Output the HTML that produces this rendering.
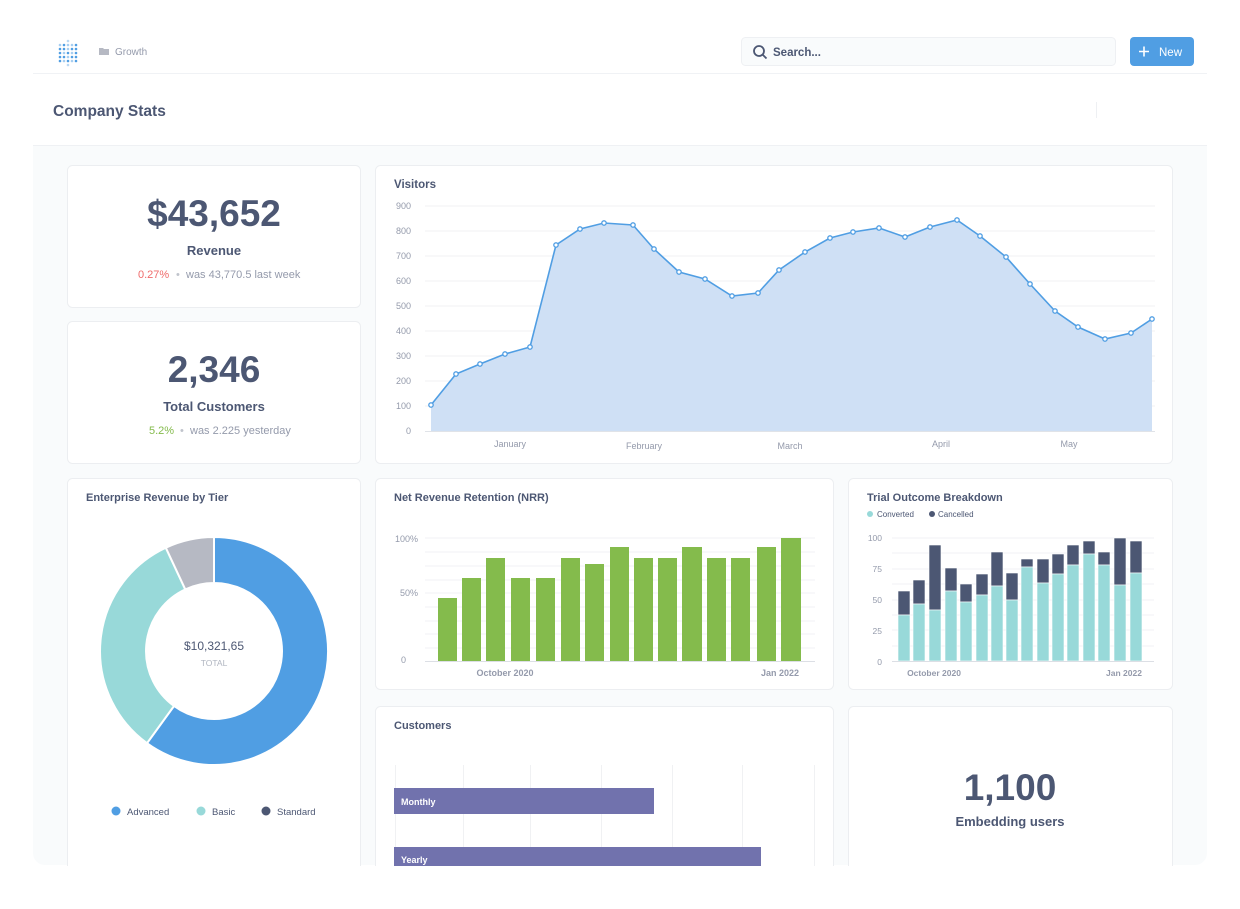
<!DOCTYPE html>
<html><head><meta charset="utf-8"><style>
body{margin:0;background:#fff;}
svg text{font-family:"Liberation Sans",sans-serif;}
</style></head><body>
<svg width="1240" height="904" xmlns="http://www.w3.org/2000/svg">
<rect width="1240" height="904" fill="#fff"/>
<g fill="#509ee3">
<circle cx="60" cy="45" r="1.3" opacity=".5"/><circle cx="64" cy="45" r="1.3"/><circle cx="68" cy="45" r="1.3" opacity=".5"/><circle cx="72" cy="45" r="1.3" opacity=".5"/><circle cx="76" cy="45" r="1.3"/>
<circle cx="60" cy="49" r="1.3"/><circle cx="64" cy="49" r="1.3"/><circle cx="68" cy="49" r="1.3" opacity=".5"/><circle cx="72" cy="49" r="1.3"/><circle cx="76" cy="49" r="1.3"/>
<circle cx="60" cy="53" r="1.3"/><circle cx="64" cy="53" r="1.3" opacity=".5"/><circle cx="68" cy="53" r="1.3"/><circle cx="72" cy="53" r="1.3" opacity=".5"/><circle cx="76" cy="53" r="1.3"/>
<circle cx="60" cy="57" r="1.3"/><circle cx="64" cy="57" r="1.3"/><circle cx="68" cy="57" r="1.3" opacity=".5"/><circle cx="72" cy="57" r="1.3"/><circle cx="76" cy="57" r="1.3"/>
<circle cx="60" cy="61" r="1.3"/><circle cx="64" cy="61" r="1.3" opacity=".5"/><circle cx="68" cy="61" r="1.3"/><circle cx="72" cy="61" r="1.3" opacity=".5"/><circle cx="76" cy="61" r="1.3"/>
<circle cx="68" cy="41" r="1.3" opacity=".4"/><circle cx="68" cy="65" r="1.3" opacity=".4"/>
</g>
<path d="M99 48h4l1 1h5v6h-10z" fill="#b6b9c3"/>
<text x="115" y="55" font-size="10" fill="#949aab">Growth</text>
<rect x="741.5" y="37.5" width="374" height="28" rx="4" fill="#f9fbfc" stroke="#eef0f3"/>
<circle cx="759" cy="51" r="5" fill="none" stroke="#4c5773" stroke-width="1.8"/><path d="M763 55l3.5 3.5" stroke="#4c5773" stroke-width="1.8"/>
<text x="773" y="56" font-size="11.5" font-weight="bold" fill="#4c5773">Search...</text>
<rect x="1130" y="37" width="64" height="29" rx="4" fill="#509ee3"/>
<path d="M1139 51.5h10M1144 46.5v10" stroke="#fff" stroke-width="1.6"/>
<text x="1159" y="56" font-size="11.5" fill="#fff">New</text>
<line x1="33" y1="73.5" x2="1207" y2="73.5" stroke="#f0f2f5"/>
<text x="53" y="116" font-size="15.5" font-weight="bold" fill="#4c5773">Company Stats</text>
<line x1="1096.5" y1="102" x2="1096.5" y2="118" stroke="#eef0f3"/>
<path d="M33 145H1207V853a12 12 0 0 1-12 12H45a12 12 0 0 1-12-12z" fill="#f9fbfc"/>
<line x1="33" y1="145.5" x2="1207" y2="145.5" stroke="#eff1f4"/>
<g fill="#fff" stroke="#eceef1">
<rect x="67.5" y="165.5" width="293" height="142" rx="5"/>
<rect x="67.5" y="321.5" width="293" height="142" rx="5"/>
<rect x="375.5" y="165.5" width="797" height="298" rx="5"/>
<rect x="67.5" y="478.5" width="293" height="400" rx="5"/>
<rect x="375.5" y="478.5" width="458" height="211" rx="5"/>
<rect x="848.5" y="478.5" width="324" height="211" rx="5"/>
<rect x="375.5" y="706.5" width="458" height="180" rx="5"/>
<rect x="848.5" y="706.5" width="324" height="180" rx="5"/>
</g>
<rect x="0" y="866" width="1240" height="38" fill="#fff"/>
<g text-anchor="middle" fill="#4c5773" font-weight="bold">
<text x="214" y="226" font-size="37">$43,652</text>
<text x="214" y="255" font-size="13">Revenue</text>
<text x="214" y="382" font-size="37">2,346</text>
<text x="214" y="411" font-size="13">Total Customers</text>
<text x="1010" y="800" font-size="37">1,100</text>
<text x="1010" y="826" font-size="13">Embedding users</text>
</g>
<text x="138" y="278" font-size="11" fill="#ef6b6b">0.27%</text>
<text x="176" y="278" font-size="11" fill="#c0c4cc">•</text>
<text x="186" y="278" font-size="11" fill="#949aab">was 43,770.5 last week</text>
<text x="149" y="434" font-size="11" fill="#84bb4c">5.2%</text>
<text x="180" y="434" font-size="11" fill="#c0c4cc">•</text>
<text x="190" y="434" font-size="11" fill="#949aab">was 2.225 yesterday</text>
<text x="394" y="188" font-size="11.5" font-weight="bold" fill="#4c5773">Visitors</text>
<g stroke="#f0f1f3"><line x1="425" y1="206" x2="1155" y2="206"/><line x1="425" y1="231" x2="1155" y2="231"/><line x1="425" y1="256" x2="1155" y2="256"/><line x1="425" y1="281" x2="1155" y2="281"/><line x1="425" y1="306" x2="1155" y2="306"/><line x1="425" y1="331" x2="1155" y2="331"/><line x1="425" y1="356" x2="1155" y2="356"/><line x1="425" y1="381" x2="1155" y2="381"/><line x1="425" y1="406" x2="1155" y2="406"/></g>
<g font-size="9" fill="#949aab" text-anchor="end"><text x="411" y="209">900</text><text x="411" y="234">800</text><text x="411" y="259">700</text><text x="411" y="284">600</text><text x="411" y="309">500</text><text x="411" y="334">400</text><text x="411" y="359">300</text><text x="411" y="384">200</text><text x="411" y="409">100</text><text x="411" y="434">0</text></g>
<path d="M431 431L431 405 456 374 480 364 505 354 530 347 556 245 580 229 604 223 633 225 654 249 679 272 705 279 732 296 758 293 779 270 805 252 830 238 853 232 879 228 905 237 930 227 957 220 980 236 1006 257 1030 284 1055 311 1078 327 1105 339 1131 333 1152 319 1152 431Z" fill="#cfe0f5"/>
<line x1="425" y1="431.5" x2="1155" y2="431.5" stroke="#e0e3e8"/>
<polyline points="431 405 456 374 480 364 505 354 530 347 556 245 580 229 604 223 633 225 654 249 679 272 705 279 732 296 758 293 779 270 805 252 830 238 853 232 879 228 905 237 930 227 957 220 980 236 1006 257 1030 284 1055 311 1078 327 1105 339 1131 333 1152 319" fill="none" stroke="#509ee3" stroke-width="1.6"/>
<g fill="#fff" stroke="#509ee3" stroke-width="1.3">
<circle cx="431" cy="405" r="2.2"/><circle cx="456" cy="374" r="2.2"/><circle cx="480" cy="364" r="2.2"/><circle cx="505" cy="354" r="2.2"/><circle cx="530" cy="347" r="2.2"/><circle cx="556" cy="245" r="2.2"/><circle cx="580" cy="229" r="2.2"/><circle cx="604" cy="223" r="2.2"/><circle cx="633" cy="225" r="2.2"/><circle cx="654" cy="249" r="2.2"/><circle cx="679" cy="272" r="2.2"/><circle cx="705" cy="279" r="2.2"/><circle cx="732" cy="296" r="2.2"/><circle cx="758" cy="293" r="2.2"/><circle cx="779" cy="270" r="2.2"/><circle cx="805" cy="252" r="2.2"/><circle cx="830" cy="238" r="2.2"/><circle cx="853" cy="232" r="2.2"/><circle cx="879" cy="228" r="2.2"/><circle cx="905" cy="237" r="2.2"/><circle cx="930" cy="227" r="2.2"/><circle cx="957" cy="220" r="2.2"/><circle cx="980" cy="236" r="2.2"/><circle cx="1006" cy="257" r="2.2"/><circle cx="1030" cy="284" r="2.2"/><circle cx="1055" cy="311" r="2.2"/><circle cx="1078" cy="327" r="2.2"/><circle cx="1105" cy="339" r="2.2"/><circle cx="1131" cy="333" r="2.2"/><circle cx="1152" cy="319" r="2.2"/>
</g>
<g font-size="9" fill="#949aab" text-anchor="middle"><text x="510" y="447">January</text><text x="644" y="449">February</text><text x="790" y="449">March</text><text x="941" y="447">April</text><text x="1069" y="447">May</text></g>
<text x="86" y="501" font-size="11" font-weight="bold" fill="#4c5773">Enterprise Revenue by Tier</text>
<g stroke="#fff" stroke-width="2">
<path d="M214 537A114 114 0 1 1 147 743.2L174 706A68 68 0 1 0 214 583Z" fill="#509ee3"/>
<path d="M147 743.2A114 114 0 0 1 165.8 547.7L185.3 589.4A68 68 0 0 0 174 706Z" fill="#98d9d9"/>
<path d="M165.8 547.7A114 114 0 0 1 214 537L214 583A68 68 0 0 0 185.3 589.4Z" fill="#b6b9c3"/>
</g>
<text x="214" y="650" font-size="12" fill="#4c5773" text-anchor="middle">$10,321,65</text>
<text x="214" y="666" font-size="8.5" fill="#b0b5c0" text-anchor="middle">TOTAL</text>
<circle cx="116" cy="811" r="4.5" fill="#509ee3"/><text x="127" y="815" font-size="9.5" fill="#4c5773">Advanced</text>
<circle cx="201" cy="811" r="4.5" fill="#98d9d9"/><text x="212" y="815" font-size="9.5" fill="#4c5773">Basic</text>
<circle cx="266" cy="811" r="4.5" fill="#4c5773"/><text x="277" y="815" font-size="9.5" fill="#4c5773">Standard</text>
<text x="394" y="501" font-size="11" font-weight="bold" fill="#4c5773">Net Revenue Retention (NRR)</text>
<g stroke="#f1f2f4"><line x1="425" y1="538" x2="815" y2="538"/><line x1="425" y1="552" x2="815" y2="552"/><line x1="425" y1="566" x2="815" y2="566"/><line x1="425" y1="580" x2="815" y2="580"/><line x1="425" y1="593" x2="815" y2="593"/><line x1="425" y1="607" x2="815" y2="607"/><line x1="425" y1="621" x2="815" y2="621"/><line x1="425" y1="634" x2="815" y2="634"/><line x1="425" y1="648" x2="815" y2="648"/></g>
<g font-size="9" fill="#949aab" text-anchor="end"><text x="418" y="542">100%</text><text x="418" y="596">50%</text><text x="406" y="663">0</text></g>
<g fill="#84bb4c">
<rect x="438" y="598" width="19" height="63"/><rect x="462" y="578" width="19" height="83"/><rect x="486" y="558" width="19" height="103"/><rect x="511" y="578" width="19" height="83"/><rect x="536" y="578" width="19" height="83"/><rect x="561" y="558" width="19" height="103"/><rect x="585" y="564" width="19" height="97"/><rect x="610" y="547" width="19" height="114"/><rect x="634" y="558" width="19" height="103"/><rect x="658" y="558" width="19" height="103"/><rect x="682" y="547" width="20" height="114"/><rect x="707" y="558" width="19" height="103"/><rect x="731" y="558" width="19" height="103"/><rect x="757" y="547" width="19" height="114"/><rect x="781" y="538" width="20" height="123"/>
</g>
<line x1="425" y1="661.5" x2="815" y2="661.5" stroke="#dcdfe5"/>
<g font-size="9" fill="#949aab" text-anchor="middle" font-weight="bold"><text x="505" y="676">October 2020</text><text x="780" y="676">Jan 2022</text></g>
<text x="867" y="501" font-size="11" font-weight="bold" fill="#4c5773">Trial Outcome Breakdown</text>
<circle cx="870" cy="514" r="3" fill="#98d9d9"/><text x="877" y="517" font-size="8" fill="#4c5773">Converted</text>
<circle cx="932" cy="514" r="3" fill="#4c5773"/><text x="938" y="517" font-size="8" fill="#4c5773">Cancelled</text>
<g stroke="#f1f2f4"><line x1="892" y1="538" x2="1154" y2="538"/><line x1="892" y1="553" x2="1154" y2="553"/><line x1="892" y1="569" x2="1154" y2="569"/><line x1="892" y1="584" x2="1154" y2="584"/><line x1="892" y1="600" x2="1154" y2="600"/><line x1="892" y1="615" x2="1154" y2="615"/><line x1="892" y1="630" x2="1154" y2="630"/><line x1="892" y1="646" x2="1154" y2="646"/></g>
<g font-size="8.5" fill="#949aab" text-anchor="end"><text x="882" y="541">100</text><text x="882" y="572">75</text><text x="882" y="603">50</text><text x="882" y="634">25</text><text x="882" y="665">0</text></g>
<g stroke="#fff" stroke-width="0.6">
<rect x="898" y="591" width="12" height="24" fill="#4c5773"/><rect x="898" y="615" width="12" height="46" fill="#98d9d9"/>
<rect x="913" y="580" width="12" height="24" fill="#4c5773"/><rect x="913" y="604" width="12" height="57" fill="#98d9d9"/>
<rect x="929" y="545" width="12" height="65" fill="#4c5773"/><rect x="929" y="610" width="12" height="51" fill="#98d9d9"/>
<rect x="945" y="568" width="12" height="23" fill="#4c5773"/><rect x="945" y="591" width="12" height="70" fill="#98d9d9"/>
<rect x="960" y="584" width="12" height="18" fill="#4c5773"/><rect x="960" y="602" width="12" height="59" fill="#98d9d9"/>
<rect x="976" y="574" width="12" height="21" fill="#4c5773"/><rect x="976" y="595" width="12" height="66" fill="#98d9d9"/>
<rect x="991" y="552" width="12" height="34" fill="#4c5773"/><rect x="991" y="586" width="12" height="75" fill="#98d9d9"/>
<rect x="1006" y="573" width="12" height="27" fill="#4c5773"/><rect x="1006" y="600" width="12" height="61" fill="#98d9d9"/>
<rect x="1021" y="559" width="12" height="8" fill="#4c5773"/><rect x="1021" y="567" width="12" height="94" fill="#98d9d9"/>
<rect x="1037" y="559" width="12" height="24" fill="#4c5773"/><rect x="1037" y="583" width="12" height="78" fill="#98d9d9"/>
<rect x="1052" y="554" width="12" height="20" fill="#4c5773"/><rect x="1052" y="574" width="12" height="87" fill="#98d9d9"/>
<rect x="1067" y="545" width="12" height="20" fill="#4c5773"/><rect x="1067" y="565" width="12" height="96" fill="#98d9d9"/>
<rect x="1083" y="541" width="12" height="13" fill="#4c5773"/><rect x="1083" y="554" width="12" height="107" fill="#98d9d9"/>
<rect x="1098" y="552" width="12" height="13" fill="#4c5773"/><rect x="1098" y="565" width="12" height="96" fill="#98d9d9"/>
<rect x="1114" y="538" width="12" height="47" fill="#4c5773"/><rect x="1114" y="585" width="12" height="76" fill="#98d9d9"/>
<rect x="1130" y="541" width="12" height="32" fill="#4c5773"/><rect x="1130" y="573" width="12" height="88" fill="#98d9d9"/>
</g>
<line x1="892" y1="661.5" x2="1154" y2="661.5" stroke="#dcdfe5"/>
<g font-size="8.5" fill="#949aab" text-anchor="middle" font-weight="bold"><text x="934" y="676">October 2020</text><text x="1124" y="676">Jan 2022</text></g>
<text x="394" y="729" font-size="11" font-weight="bold" fill="#4c5773">Customers</text>
<g stroke="#f0f1f3"><line x1="395.5" y1="765" x2="395.5" y2="866"/><line x1="463.5" y1="765" x2="463.5" y2="866"/><line x1="530.5" y1="765" x2="530.5" y2="866"/><line x1="601.5" y1="765" x2="601.5" y2="866"/><line x1="672.5" y1="765" x2="672.5" y2="866"/><line x1="742.5" y1="765" x2="742.5" y2="866"/><line x1="814.5" y1="765" x2="814.5" y2="866"/></g>
<rect x="394" y="788" width="260" height="26" fill="#7172ad"/>
<rect x="394" y="847" width="367" height="19" fill="#7172ad"/>
<text x="401" y="805" font-size="9" font-weight="bold" fill="#fff">Monthly</text>
<text x="401" y="863" font-size="9" font-weight="bold" fill="#fff">Yearly</text>
</svg>
</body></html>
